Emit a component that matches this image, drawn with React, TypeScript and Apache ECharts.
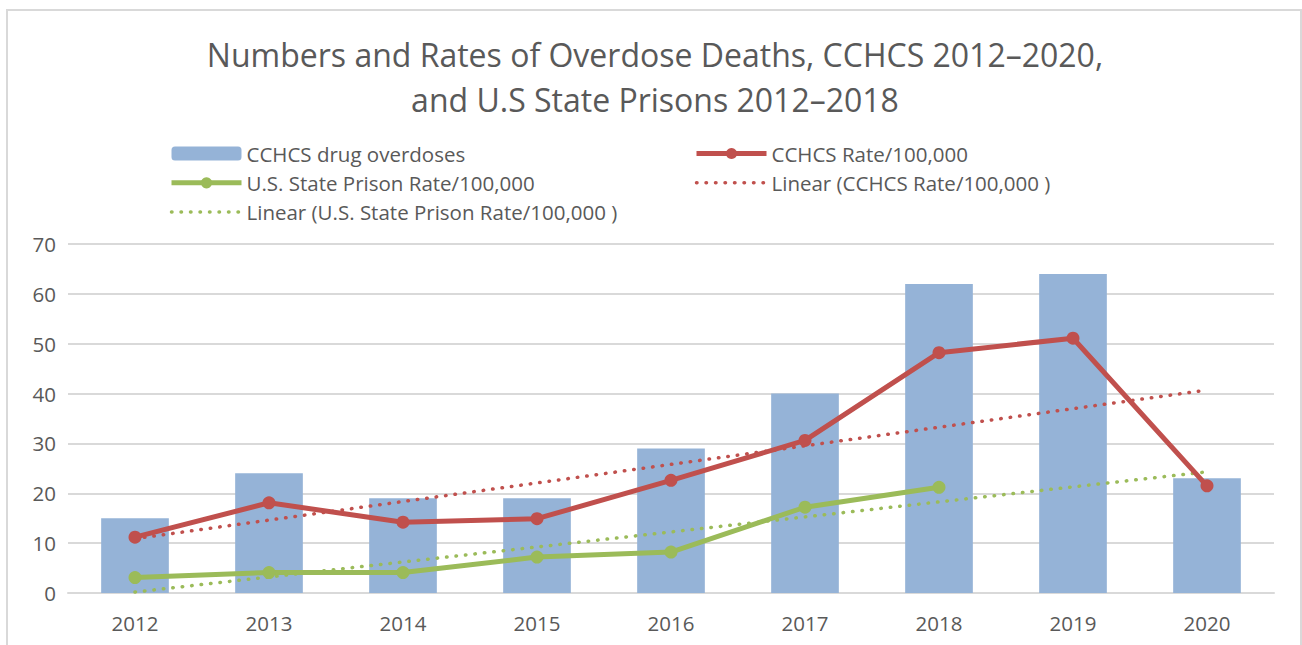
import React, { useEffect, useRef } from "react";
import * as echarts from "echarts";

const years = ["2012", "2013", "2014", "2015", "2016", "2017", "2018", "2019", "2020"];
const overdoses = [15, 24, 19, 19, 29, 40, 62, 64, 23];
const cchcsRate = [11.2, 18.1, 14.2, 14.9, 22.6, 30.6, 48.2, 51.1, 21.5];
const usRate = [3.1, 4.1, 4.1, 7.2, 8.2, 17.2, 21.2, null, null];
// Trendline endpoints (2012 and 2020)
const cchcsTrend = [10.9, null, null, null, null, null, null, null, 40.7];
const usTrend = [0.2, null, null, null, null, null, null, null, 24.3];

const TXT = "#595959";
const FONT = "Open Sans";
const RED = "#C0504D";
const GREEN = "#9BBB59";
const BLUE = "#95B3D7";

export default function App() {
  const ref = useRef<HTMLDivElement>(null);
  useEffect(() => {
    if (!ref.current) return;
    const chart = echarts.init(ref.current, undefined, { renderer: "svg" });
    const dotted = [0.5, 9];
    const legendText = { fontSize: 20.5, color: TXT, lineHeight: 20, fontFamily: FONT };
    const hiddenSym = { color: "rgba(0,0,0,0)", borderWidth: 0, opacity: 0 };
    chart.setOption({
      animation: false,
      backgroundColor: "#ffffff",
      textStyle: { fontFamily: FONT },
      graphic: [
        {
          type: "rect",
          shape: { x: 7, y: 10, width: 1294, height: 700 },
          style: { fill: "none", stroke: "#d9d9d9", lineWidth: 2 },
          silent: true,
        },
        {
          type: "text",
          x: 655,
          y: 32,
          style: {
            text: "Numbers and Rates of Overdose Deaths, CCHCS 2012\u20132020,\nand U.S State Prisons 2012\u20132018",
            fontSize: 32,
            lineHeight: 45,
            fill: TXT,
            fontFamily: FONT,
            align: "center",
            verticalAlign: "top",
          },
          silent: true,
        },
      ],
      legend: [
        {
          data: [
            { name: "CCHCS drug overdoses" },
            { name: "U.S. State Prison Rate/100,000", lineStyle: { width: 5 } },
            { name: "Linear (U.S. State Prison Rate/100,000 )", itemStyle: hiddenSym, lineStyle: { width: 3.5 } },
          ],
          orient: "vertical",
          left: 169,
          top: 143,
          padding: 0,
          itemWidth: 70,
          itemHeight: 14,
          itemGap: 8.3,
          textStyle: legendText,
        },
        {
          data: [
            { name: "CCHCS Rate/100,000", lineStyle: { width: 5 } },
            { name: "Linear (CCHCS Rate/100,000 )", itemStyle: hiddenSym, lineStyle: { width: 3.5 } },
          ],
          orient: "vertical",
          left: 694,
          top: 143,
          padding: 0,
          itemWidth: 70,
          itemHeight: 14,
          itemGap: 8.3,
          textStyle: legendText,
        },
      ],
      grid: { left: 68, right: 28, top: 244, bottom: 52, containLabel: false },
      xAxis: {
        type: "category",
        data: years,
        axisLine: { show: true, lineStyle: { color: "#d9d9d9", width: 2 } },
        axisTick: { show: false },
        axisLabel: { color: TXT, fontSize: 20.5, margin: 19, fontFamily: FONT },
      },
      yAxis: {
        type: "value",
        min: 0,
        max: 70,
        interval: 10,
        axisLine: { show: false },
        axisTick: { show: false },
        axisLabel: { color: TXT, fontSize: 20.5, margin: 12, fontFamily: FONT },
        splitLine: { lineStyle: { color: "#d9d9d9", width: 2 } },
      },
      series: [
        {
          name: "CCHCS drug overdoses",
          type: "bar",
          data: overdoses,
          barWidth: "50.5%",
          itemStyle: { color: BLUE },
          z: 1,
        },
        {
          name: "Linear (CCHCS Rate/100,000 )",
          type: "line",
          data: cchcsTrend,
          connectNulls: true,
          symbol: "none",
          lineStyle: { color: RED, width: 3.5, type: dotted, cap: "round" },
          itemStyle: { color: RED },
          z: 2,
        },
        {
          name: "Linear (U.S. State Prison Rate/100,000 )",
          type: "line",
          data: usTrend,
          connectNulls: true,
          symbol: "none",
          lineStyle: { color: GREEN, width: 3.5, type: dotted, cap: "round" },
          itemStyle: { color: GREEN },
          z: 2,
        },
        {
          name: "CCHCS Rate/100,000",
          type: "line",
          data: cchcsRate,
          symbol: "circle",
          symbolSize: 13,
          lineStyle: { color: RED, width: 5 },
          itemStyle: { color: RED },
          z: 3,
        },
        {
          name: "U.S. State Prison Rate/100,000",
          type: "line",
          data: usRate,
          symbol: "circle",
          symbolSize: 13,
          lineStyle: { color: GREEN, width: 5 },
          itemStyle: { color: GREEN },
          z: 3,
        },
      ],
    });
    return () => chart.dispose();
  }, []);
  return <div ref={ref} style={{ position: "fixed", left: 0, top: 0, width: 1302, height: 645 }} />;
}
